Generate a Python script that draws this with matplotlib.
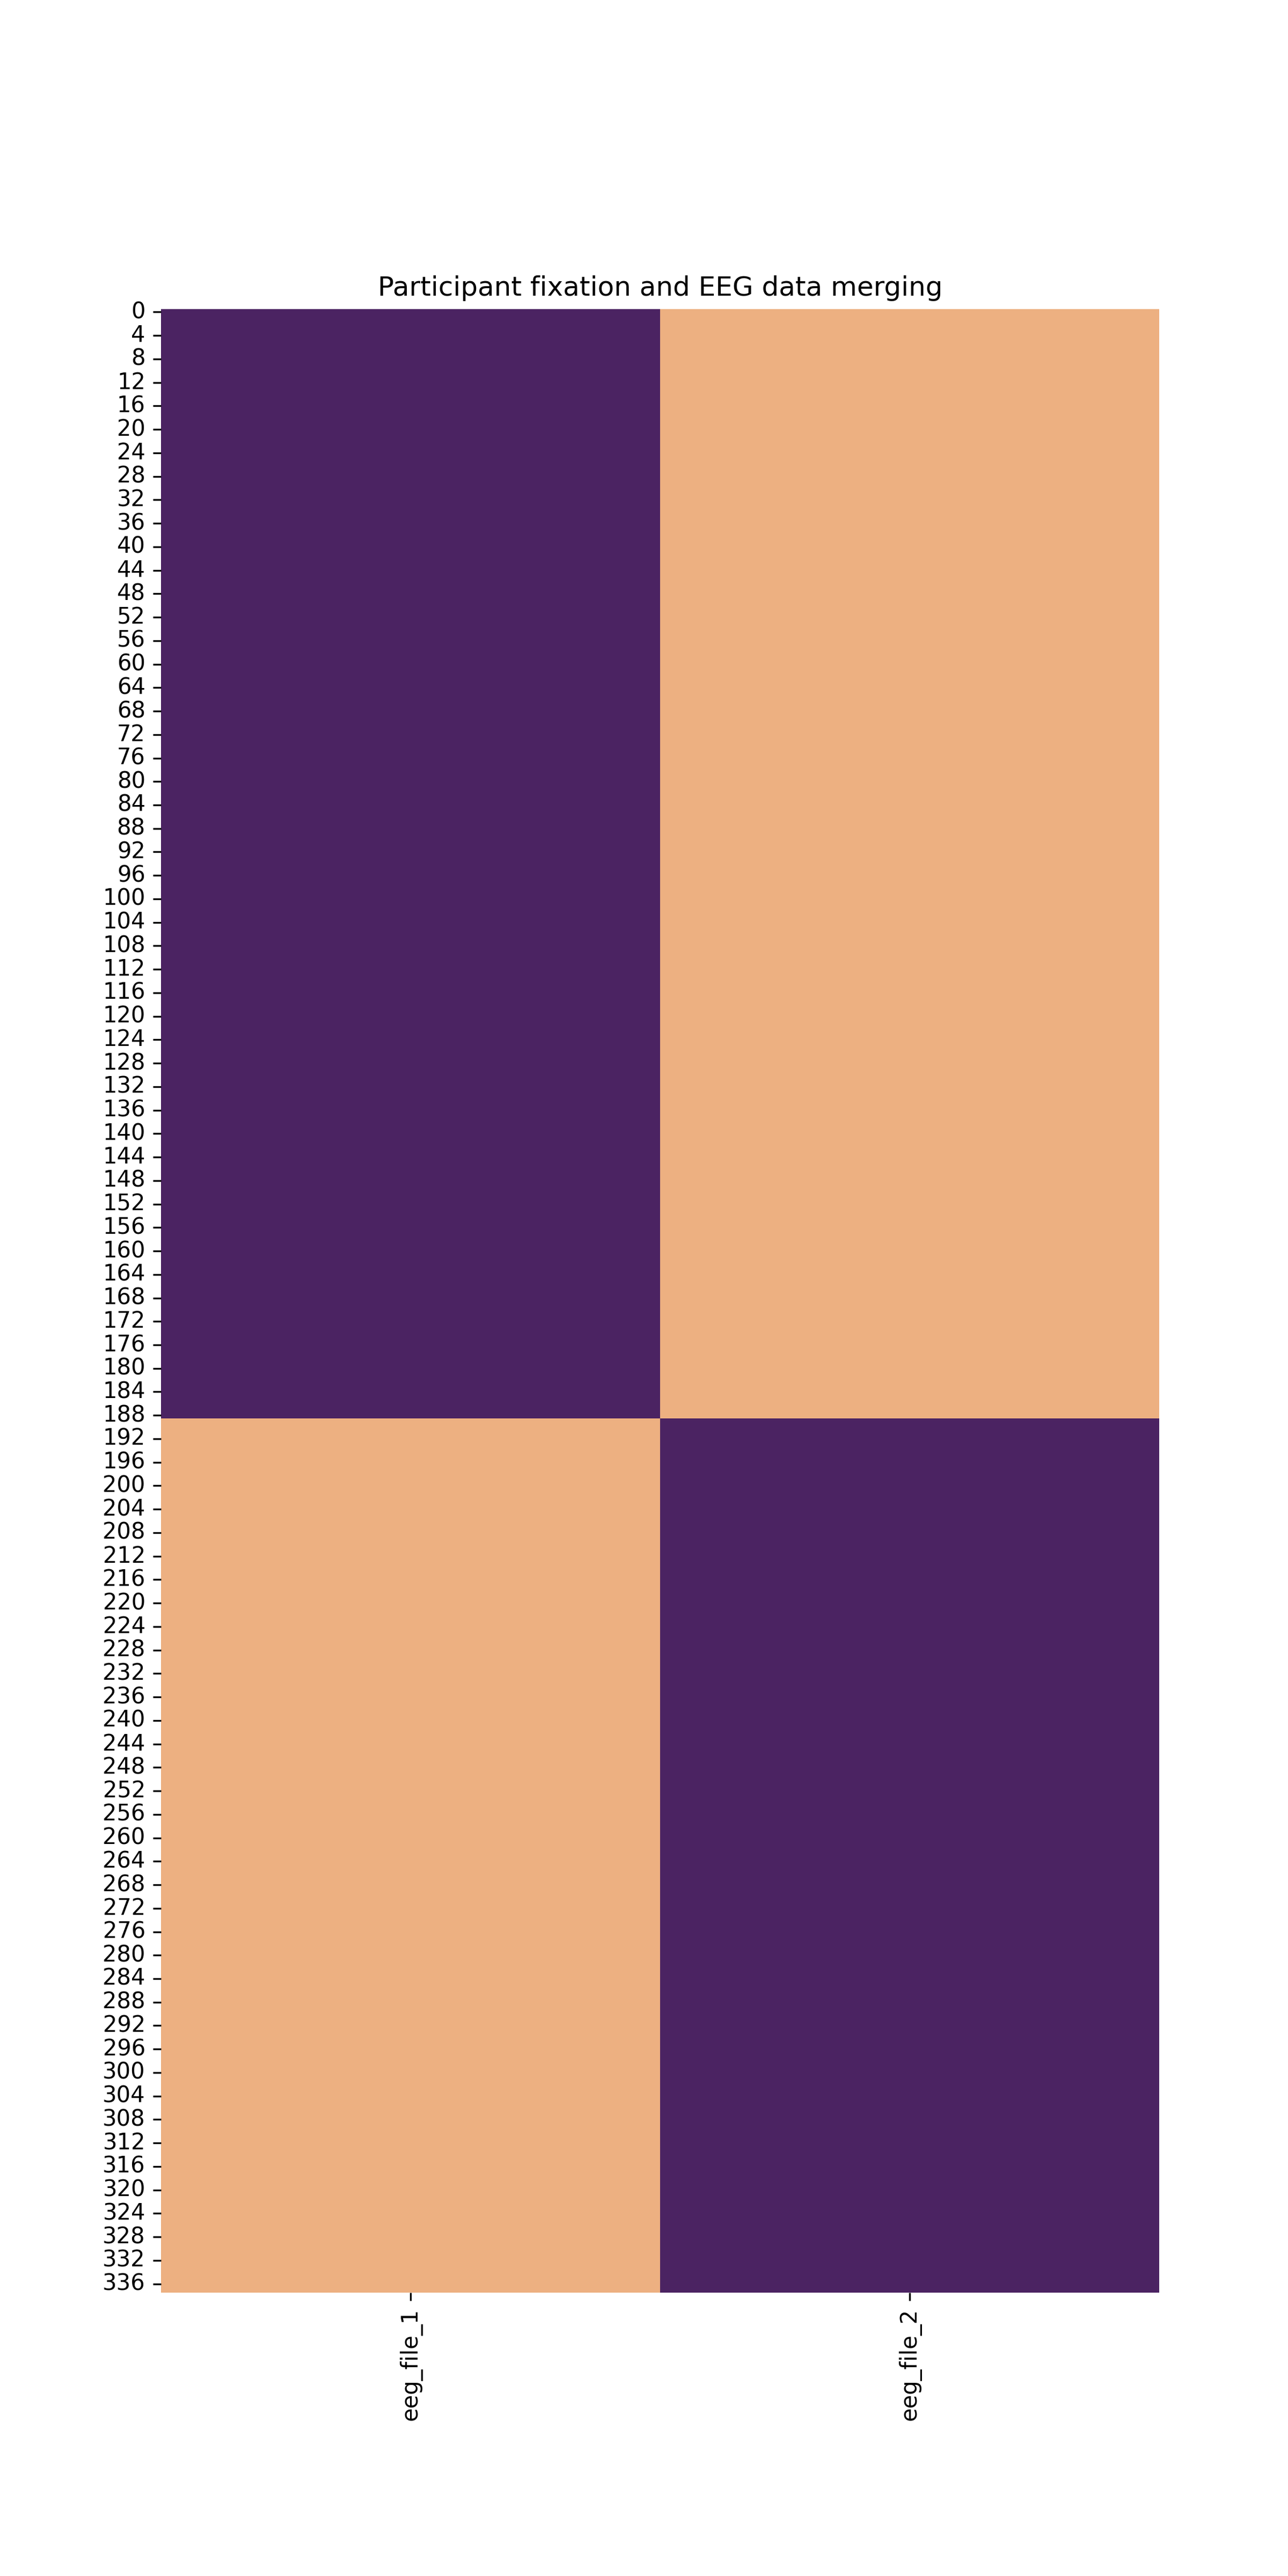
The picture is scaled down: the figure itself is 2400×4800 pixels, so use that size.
import matplotlib
matplotlib.use("Agg")
import matplotlib.pyplot as plt
import pandas as pd
import seaborn as sns

# rows 0-188 came from the first EEG file, rows 189-337 from the second
rows_file_1 = 189
rows_file_2 = 149
columns = ["eeg_file_1", "eeg_file_2"]

eeg_file_1 = [1] * rows_file_1 + [0] * rows_file_2
eeg_file_2 = [0] * rows_file_1 + [1] * rows_file_2

df = pd.DataFrame({columns[0]: eeg_file_1, columns[1]: eeg_file_2})

fig = plt.figure(figsize=(8, 16))
ax = sns.heatmap(df, cmap="flare", cbar=False)
ax.set_title("Participant fixation and EEG data merging")
plt.xticks(rotation=90)

plt.savefig("out.png", dpi=300)
